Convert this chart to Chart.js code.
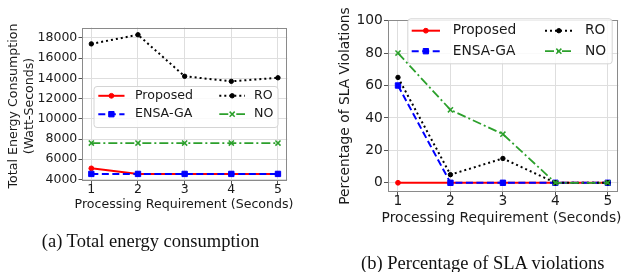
<!DOCTYPE html>
<html>
<head>
<meta charset="utf-8">
<script src="https://cdn.jsdelivr.net/npm/chart.js@4.4.1/dist/chart.umd.min.js"></script>
<style>
    html, body { margin: 0; padding: 0; background: #fff; }
    #wrap { position: relative; width: 625px; height: 272px; overflow: hidden; }
    canvas { position: absolute; top: 0; }
    #energy { left: 0; }
    #sla { left: 312px; }
    .cap {
        position: absolute;
        font-family: "Liberation Serif", "Times New Roman", serif;
        font-size: 18.5px;
        color: #111;
        white-space: nowrap;
        transform: translate(-50%, -50%);
    }
</style>
</head>
<body>
<div id="wrap">
    <canvas id="energy" width="312" height="272"></canvas>
    <canvas id="sla" width="313" height="272"></canvas>
    <div class="cap" style="left:150.5px;top:240.5px">(a) Total energy consumption</div>
    <div class="cap" style="left:482.8px;top:263px">(b) Percentage of SLA violations</div>
</div>
<script>
// x axis: processing requirement (seconds)
const seconds = [1, 2, 3, 4, 5];
const seriesNames = ['Proposed', 'ENSA-GA', 'RO', 'NO'];

// (a) total energy consumption, watt-seconds
const energyProposed = [5100, 4550, 4550, 4550, 4550];
const energyEnsaGa = [4550, 4550, 4550, 4550, 4550];
const energyRO = [17400, 18300, 14200, 13700, 14050];
const energyNO = [7600, 7600, 7600, 7600, 7600];
const energyTicks = [4000, 6000, 8000, 10000, 12000, 14000, 16000, 18000];

// (b) percentage of SLA violations
const slaProposed = [0, 0, 0, 0, 0];
const slaEnsaGa = [60, 0, 0, 0, 0];
const slaRO = [65, 5, 15, 0, 0];
const slaNO = [80, 45, 30, 0, 0];
const slaTicks = [0, 20, 40, 60, 80, 100];

const FONT = '"DejaVu Sans", "Noto Sans", sans-serif';
const TEXT = '#1a1a1a';

const lineStyles = [
    { color: '#ff0000', dash: [], point: 'circle', radius: 2.4, pbw: 1, width: 2, order: 4 },
    { color: '#0000ff', dash: [7, 3.5], point: 'rect', radius: 3.8, pbw: 1, width: 2, order: 3 },
    { color: '#000000', dash: [2, 3], point: 'circle', radius: 2.2, pbw: 1, width: 2, order: 2 },
    { color: '#2ca02c', dash: [9, 3, 2, 3], point: 'crossRot', radius: 3.6, pbw: 1.5, width: 1.8, order: 1 },
];

function makeDatasets(series) {
    return series.map((values, i) => {
        const s = lineStyles[i];
        return {
            label: seriesNames[i],
            data: seconds.map((x, k) => ({ x, y: values[k] })),
            borderColor: s.color,
            backgroundColor: s.color,
            borderWidth: s.width,
            borderDash: s.dash,
            pointStyle: s.point,
            pointRadius: s.radius,
            pointBorderWidth: s.pbw,
            pointBackgroundColor: s.color,
            pointBorderColor: s.color,
            tension: 0,
            order: s.order,
        };
    });
}

// frame, axis titles and the two-column legend inside the plot
const decor = {
    id: 'decor',
    afterDraw(chart, args, o) {
        const { ctx, chartArea: a } = chart;
        ctx.save();

        ctx.strokeStyle = '#8a8a8a';
        ctx.lineWidth = 1;
        ctx.setLineDash([]);
        const l = Math.round(a.left) + 0.5, t = Math.round(a.top) + 0.5;
        const r = Math.round(a.right) - 0.5, b = Math.round(a.bottom) - 0.5;
        ctx.strokeRect(l, t, r - l, b - t);

        ctx.fillStyle = TEXT;
        ctx.font = `${o.fontSize}px ${FONT}`;
        ctx.textAlign = 'center';
        ctx.textBaseline = 'middle';
        ctx.fillText(o.xTitle, o.xTitlePos[0], o.xTitlePos[1]);
        o.yTitle.forEach((line, i) => {
            ctx.save();
            ctx.translate(o.yTitleX[i], o.yTitleY);
            ctx.rotate(-Math.PI / 2);
            ctx.fillText(line, 0, 0);
            ctx.restore();
        });

        const lg = o.legend;
        const [x0, y0, x1, y1] = lg.box;
        ctx.beginPath();
        ctx.roundRect(x0 + 0.5, y0 + 0.5, x1 - x0, y1 - y0, 3);
        ctx.fillStyle = 'rgba(255,255,255,0.85)';
        ctx.fill();
        ctx.strokeStyle = '#d4d4d4';
        ctx.stroke();

        ctx.textAlign = 'left';
        chart.data.datasets.forEach((ds, i) => {
            const col = lg.cols[Math.floor(i / 2)];
            const y = lg.rows[i % 2];
            ctx.strokeStyle = ds.borderColor;
            ctx.lineWidth = ds.borderWidth;
            ctx.setLineDash(ds.borderDash);
            ctx.beginPath();
            ctx.moveTo(col[0], y);
            ctx.lineTo(col[1], y);
            ctx.stroke();
            ctx.setLineDash([]);
            ctx.fillStyle = ds.pointBackgroundColor;
            ctx.strokeStyle = ds.pointBorderColor;
            ctx.lineWidth = ds.pointBorderWidth;
            Chart.helpers.drawPoint(ctx, {
                pointStyle: ds.pointStyle,
                radius: ds.pointRadius,
                borderWidth: ds.pointBorderWidth,
                rotation: 0,
            }, (col[0] + col[1]) / 2, y);
            ctx.fillStyle = TEXT;
            ctx.fillText(ds.label, col[2], y);
        });
        ctx.restore();
    },
};

function buildChart(canvas, cfg) {
    const fixX = (scale) => {
        scale.height = cfg.xHeight;
        scale.paddingLeft = 0;
        scale.paddingRight = 0;
    };
    const fixY = (scale) => {
        scale.width = cfg.yWidth;
        scale.paddingTop = 0;
        scale.paddingBottom = 0;
    };
    const tickFont = { family: FONT, size: cfg.fontSize, lineHeight: 1 };
    return new Chart(canvas, {
        type: 'line',
        data: { datasets: makeDatasets(cfg.series) },
        options: {
            responsive: false,
            animation: false,
            devicePixelRatio: 1,
            layout: { padding: { left: 0, top: cfg.top, right: cfg.right, bottom: 0 } },
            plugins: {
                legend: { display: false },
                tooltip: { enabled: false },
                decor: cfg.decor,
            },
            scales: {
                x: {
                    type: 'linear',
                    min: 0.8,
                    max: 5.2,
                    afterBuildTicks: (s) => { s.ticks = seconds.map((v) => ({ value: v })); },
                    afterFit: fixX,
                    border: { display: false },
                    grid: { color: '#dedede', tickColor: '#555', tickLength: 3.5, lineWidth: 1 },
                    ticks: { color: TEXT, font: tickFont, padding: -0.5, maxRotation: 0, autoSkip: false, callback: (v) => String(v) },
                },
                y: {
                    min: cfg.yMin,
                    max: cfg.yMax,
                    afterBuildTicks: (s) => { s.ticks = cfg.yTicks.map((v) => ({ value: v })); },
                    afterFit: fixY,
                    border: { display: false },
                    grid: { color: '#dedede', tickColor: '#555', tickLength: 3.5, lineWidth: 1 },
                    ticks: { color: TEXT, font: tickFont, padding: 1.2, autoSkip: false, callback: (v) => String(v) },
                },
            },
        },
        plugins: [decor],
    });
}

buildChart(document.getElementById('energy'), {
    series: [energyProposed, energyEnsaGa, energyRO, energyNO],
    yTicks: energyTicks,
    yMin: 3870,
    yMax: 19020,
    top: 27.5,
    right: 24.7,
    yWidth: 82,
    xHeight: 91.2,
    fontSize: 12.5,
    decor: {
        fontSize: 12.6,
        xTitle: 'Processing Requirement (Seconds)',
        xTitlePos: [184, 205],
        yTitle: ['Total Energy Consumption', '(Watt-Seconds)'],
        yTitleX: [14, 30],
        yTitleY: 106,
        legend: {
            box: [93.5, 86, 277.5, 127],
            rows: [95.8, 114.2],
            cols: [[98.3, 124.5, 135], [219.3, 245, 254]],
        },
    },
});

buildChart(document.getElementById('sla'), {
    series: [slaProposed, slaEnsaGa, slaRO, slaNO],
    yTicks: slaTicks,
    yMin: -5.5,
    yMax: 100.4,
    top: 20,
    right: 6.7,
    yWidth: 75.5,
    xHeight: 80.3,
    fontSize: 13.8,
    decor: {
        fontSize: 13.8,
        xTitle: 'Processing Requirement (Seconds)',
        xTitlePos: [189.5, 218.2],
        yTitle: ['Percentage of SLA Violations'],
        yTitleX: [33],
        yTitleY: 106,
        legend: {
            box: [95.3, 18.3, 299.7, 63.3],
            rows: [30.7, 51.2],
            cols: [[99.7, 128, 140.7], [233, 260.7, 273]],
        },
    },
});
</script>
</body>
</html>
